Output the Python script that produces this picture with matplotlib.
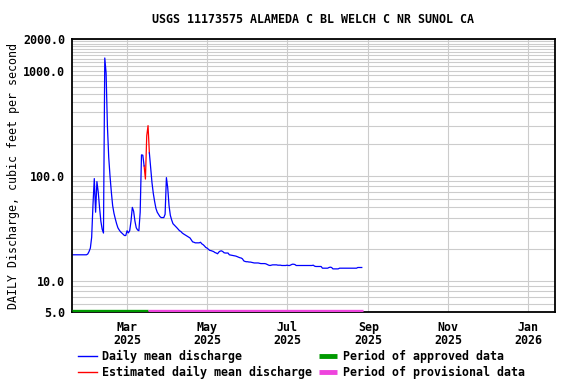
import numpy as np
import pandas as pd
import matplotlib
matplotlib.use("Agg")
import matplotlib.pyplot as plt
import matplotlib.dates as mdates
from matplotlib.lines import Line2D

# Daily mean discharge (cfs), one value per day starting at start_date
start_date = "2025-01-18"
discharge = [
    17.7, 17.7, 17.7, 17.7, 17.7, 17.7, 17.7, 17.7, 17.7, 17.7, 17.7, 17.7,
    18.0, 19.0, 20.5, 26, 53, 94, 45, 88, 70, 50, 37, 31, 28.5,
    1320, 950, 300, 150, 99, 70, 52, 44, 39, 35, 32, 30.5, 29.3, 28.5, 27.8,
    27, 27, 30, 28.6, 30, 37, 50, 46, 37, 32, 30.5, 30, 45,
    158, 157, 124, 93, 240, 300, 165, 120, 86, 68, 57, 49, 45, 43, 41, 40,
    40, 40, 43, 96, 77, 52, 42, 38, 35, 34, 33, 32, 31, 30, 29.5, 28.6, 28,
    27.5, 27, 26.5, 26, 25.6, 24.5, 23.5, 23.3, 23, 23, 23, 23, 23.3, 22.5,
    22.1, 21.5, 20.8, 20.5, 20, 19.5, 19.4, 19.2, 19, 18.6, 18.4, 18.1,
    18.8, 19.2, 19.3, 19, 18.5, 18.4, 18.4, 18.4, 17.7, 17.6, 17.5, 17.4,
    17.3, 17.2, 17.0, 16.8, 16.6, 16.5, 16.2, 15.5, 15.3, 15.2, 15.2, 15.1,
    15.1, 15.0, 14.9, 14.8, 14.8, 14.8, 14.8, 14.7, 14.6, 14.6, 14.6, 14.6,
    14.5, 14.3, 14.1, 14.0, 14.1, 14.2, 14.2, 14.2, 14.2, 14.1, 14.1, 14.1,
    14.0, 14.0, 14.0, 14.0, 14.1, 14.0, 14.0, 14.2, 14.4, 14.4, 14.3, 14.0,
    14.0, 14.0, 14.0, 14.0, 14.0, 14.0, 14.0, 14.0, 14.0, 14.0, 14.0, 14.0,
    14.1, 13.8, 13.7, 13.7, 13.7, 13.7, 13.7, 13.2, 13.2, 13.2, 13.2, 13.2,
    13.4, 13.5, 13.4, 13.0, 13.0, 13.0, 13.0, 13.0,
    13.2, 13.2, 13.2, 13.2, 13.2, 13.2, 13.2, 13.2, 13.2, 13.2, 13.2, 13.2,
    13.2, 13.2, 13.4, 13.4, 13.4, 13.4,
]
estimated_dates = ["2025-03-15", "2025-03-16", "2025-03-17"]

approved_period = ("2025-01-18", "2025-03-17")
provisional_period = ("2025-03-17", "2025-08-28")

x_limits = ("2025-01-18", "2026-01-21")
month_ticks = ["2025-03-01", "2025-05-01", "2025-07-01", "2025-09-01",
               "2025-11-01", "2026-01-01"]
y_labeled = [5, 10, 100, 1000, 2000]
y_grid = [6, 7, 8, 9, 20, 30, 40, 50, 60, 70, 80, 90,
          200, 300, 400, 500, 600, 700, 800, 900,
          1100, 1200, 1300, 1400, 1500, 1600, 1700, 1800, 1900]

title = "USGS 11173575 ALAMEDA C BL WELCH C NR SUNOL CA"
ylabel = "DAILY Discharge, cubic feet per second"

plt.rcParams['font.family'] = ['DejaVu Sans Mono']
plt.rcParams['font.weight'] = 'bold'
fs = 8.35

dates = pd.date_range(start_date, periods=len(discharge), freq="D")
q = pd.Series(discharge, index=dates, dtype=float)
is_est = q.index.isin(pd.to_datetime(estimated_dates))
near_est = is_est | np.roll(is_est, 1) | np.roll(is_est, -1)

q_blue = q.where(~is_est)
q_red = q.where(near_est)

fig = plt.figure(figsize=(5.76, 3.84), dpi=100)
ax = fig.add_axes([0.125, 0.1862, 0.8377, 0.7122])

ax.plot(q_red.index, q_red.values, color='#ff0000', lw=0.9)
ax.plot(q_blue.index, q_blue.values, color='#0000ff', lw=0.9)

# data-status bars along the bottom of the plot
bar_tr = ax.get_xaxis_transform()
ax.hlines(0.007, pd.Timestamp(approved_period[0]), pd.Timestamp(approved_period[1]),
          transform=bar_tr, color='#009900', lw=2.4, zorder=3)
ax.hlines(0.007, pd.Timestamp(provisional_period[0]), pd.Timestamp(provisional_period[1]),
          transform=bar_tr, color='#ee44dd', lw=2.4, zorder=3)

ax.set_yscale('log')
ax.set_ylim(5, 2000)
ax.set_yticks(y_labeled)
ax.set_yticklabels([f"{v:.1f}" for v in y_labeled])
ax.set_yticks(y_grid, minor=True)
ax.yaxis.set_minor_formatter(matplotlib.ticker.NullFormatter())

ax.set_xlim(pd.Timestamp(x_limits[0]), pd.Timestamp(x_limits[1]))
ax.set_xticks(pd.to_datetime(month_ticks))
ax.xaxis.set_major_formatter(mdates.DateFormatter("%b\n%Y"))
for lab in ax.get_xticklabels():
    lab.set_linespacing(1.05)

ax.grid(True, which='both', axis='y', color='#cccccc', lw=0.8)
ax.grid(True, which='major', axis='x', color='#cccccc', lw=0.8)
ax.set_axisbelow(True)

ax.tick_params(which='both', length=0)
ax.tick_params(axis='y', pad=5, labelsize=fs)
ax.tick_params(axis='x', pad=6, labelsize=fs)
for s in ax.spines.values():
    s.set_linewidth(1.3)
    s.set_color('black')

ax.set_ylabel(ylabel, fontsize=fs)
ax.yaxis.set_label_coords(-0.108, 0.5)
fig.text(0.5434, 0.95, title, ha='center', va='center', fontsize=fs)

handles = [
    Line2D([], [], color='#0000ff', lw=1),
    Line2D([], [], color='#ff0000', lw=1),
    Line2D([], [], color='#009900', lw=3.5, solid_capstyle='butt'),
    Line2D([], [], color='#ee44dd', lw=3.5, solid_capstyle='butt'),
]
labels = ["Daily mean discharge", "Estimated daily mean discharge",
          "Period of approved data", "Period of provisional data"]
fig.legend(handles, labels, ncol=2, loc='upper left',
           bbox_to_anchor=(78 / 576, 1 - 350 / 384), frameon=False,
           fontsize=fs, handlelength=1.6, handletextpad=0.45,
           columnspacing=0.6, labelspacing=0.25, borderpad=0, borderaxespad=0)

fig.savefig("out.png", dpi=100)
